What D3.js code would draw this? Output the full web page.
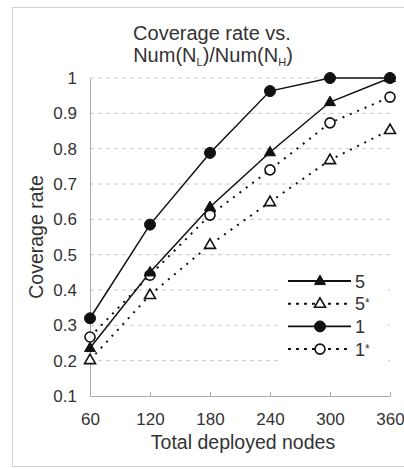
<!DOCTYPE html>
<html><head><meta charset="utf-8">
<script src="https://cdn.jsdelivr.net/npm/d3@7/dist/d3.min.js"></script>
<style>body{margin:0;background:#fff}text{font-family:"Liberation Sans",Arial,sans-serif;fill:#333}</style>
</head><body><svg id="c" width="404" height="469"></svg>
<script>
const xValues = [60,120,180,240,300,360];
const yTicks = [0.1,0.2,0.3,0.4,0.5,0.6,0.7,0.8,0.9,1];
const s5 = [0.236,0.45,0.635,0.79,0.932,1.0];
const s5star = [0.202,0.386,0.528,0.649,0.768,0.853];
const s1 = [0.32,0.585,0.788,0.963,1.0,1.0];
const s1star = [0.267,0.442,0.612,0.74,0.873,0.946];
const seriesNames = ["5","5*","1","1*"];

const series = [
  {name:seriesNames[0], vals:s5, marker:"tri", fill:true, dotted:false},
  {name:seriesNames[1], vals:s5star, marker:"tri", fill:false, dotted:true},
  {name:seriesNames[2], vals:s1, marker:"circ", fill:true, dotted:false},
  {name:seriesNames[3], vals:s1star, marker:"circ", fill:false, dotted:true}
];

const svg = d3.select("#c");
svg.append("rect").attr("x",12.5).attr("y",7.5).attr("width",395).attr("height",459)
  .attr("fill","none").attr("stroke","#d0d0d0");

const x = d3.scaleLinear().domain([60,360]).range([90,390]);
const y = d3.scaleLinear().domain([0.1,1]).range([396,78]);

// gridlines
svg.append("g").selectAll("line").data(yTicks.slice(1)).join("line")
  .attr("x1",90).attr("x2",390).attr("y1",d=>y(d)).attr("y2",d=>y(d))
  .attr("stroke","#c8c8c8").attr("stroke-dasharray","4,4");

// axes
const ya = svg.append("g").attr("transform","translate(90,0)")
  .call(d3.axisLeft(y).tickValues(yTicks).tickSize(0).tickPadding(13).tickFormat(d=>d3.format("")(+d.toFixed(1))));
ya.select(".domain").attr("stroke","#aaa");
ya.selectAll("text").attr("font-size",17).style("fill","#333");

const xa = svg.append("g").attr("transform","translate(0,396)")
  .call(d3.axisBottom(x).tickValues(xValues).tickSizeInner(-4).tickSizeOuter(0).tickPadding(17));
xa.select(".domain").attr("stroke","#aaa");
xa.selectAll(".tick line").attr("stroke","#aaa");
xa.selectAll("text").attr("font-size",17).style("fill","#333");

// legend background
svg.append("rect").attr("x",282).attr("y",266).attr("width",106).attr("height",96).attr("fill","#fff");

const line = d3.line().x((d,i)=>x(xValues[i])).y(d=>y(d));

function marker(g, type, fill, cx, cy){
  if(type==="circ"){
    g.append("circle").attr("cx",cx).attr("cy",cy).attr("r",fill?5.5:5)
      .attr("fill",fill?"#111":"#fff").attr("stroke","#111").attr("stroke-width",fill?1:1.6);
  } else {
    const s = 11, h = s*Math.sqrt(3)/2;
    g.append("path").attr("d",`M${cx},${cy-h*0.62}L${cx+s/2},${cy+h*0.38}L${cx-s/2},${cy+h*0.38}Z`)
      .attr("fill",fill?"#111":"#fff").attr("stroke","#111").attr("stroke-width",fill?1:1.6);
  }
}

const order = [1,3,0,2];
order.forEach(k=>{
  const s = series[k];
  svg.append("path").datum(s.vals).attr("d",line).attr("fill","none")
    .attr("stroke","#111").attr("stroke-width",s.dotted?2:1.5)
    .attr("stroke-dasharray",s.dotted?"2,6":null);
});
order.forEach(k=>{
  const s = series[k];
  const g = svg.append("g");
  s.vals.forEach((v,i)=>marker(g,s.marker,s.fill,x(xValues[i]),y(v)));
});

// legend
const lg = svg.append("g");
series.forEach((s,i)=>{
  const yy = 281 + i*22.7;
  lg.append("line").attr("x1",288).attr("x2",351).attr("y1",yy).attr("y2",yy)
    .attr("stroke","#111").attr("stroke-width",s.dotted?2:1.8).attr("stroke-dasharray",s.dotted?"3,5":null);
  marker(lg,s.marker,s.fill,320,yy);
  const tx = lg.append("text").attr("x",355).attr("y",yy+6.5).attr("font-size",18);
  tx.append("tspan").text(s.name.replace("*",""));
  if(s.name.includes("*")) tx.append("tspan").attr("font-size",12).attr("dy",-3).text("*");
});

// titles
const t = svg.append("text").attr("text-anchor","middle").attr("font-size",20);
t.append("tspan").attr("x",212).attr("y",40).text("Coverage rate vs.");
const t2 = svg.append("text").attr("x",213).attr("y",62).attr("text-anchor","middle").attr("font-size",20);
t2.append("tspan").text("Num(N");
t2.append("tspan").attr("font-size",11).attr("dy",4).text("L");
t2.append("tspan").attr("dy",-4).text(")/Num(N");
t2.append("tspan").attr("font-size",11).attr("dy",4).text("H");
t2.append("tspan").attr("dy",-4).text(")");

svg.append("text").attr("transform","translate(43,237) rotate(-90)").attr("text-anchor","middle")
  .attr("font-size",19.5).text("Coverage rate");
svg.append("text").attr("x",243).attr("y",449).attr("text-anchor","middle").attr("font-size",19.5)
  .text("Total deployed nodes");
</script></body></html>
